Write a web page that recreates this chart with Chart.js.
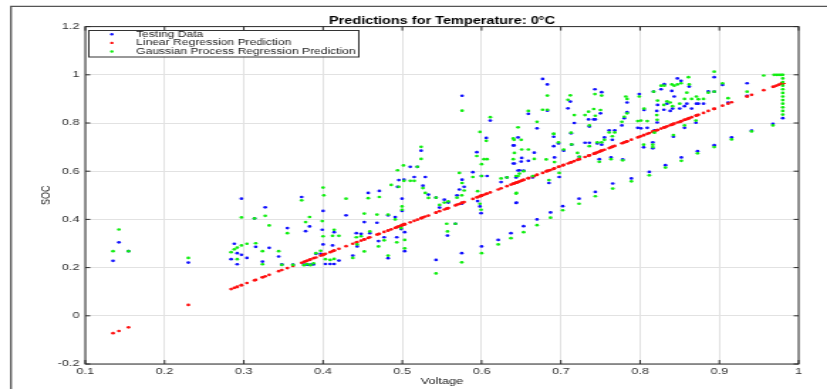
<!DOCTYPE html>
<html>
<head>
<meta charset="utf-8">
<title>Predictions for Temperature: 0°C</title>
<script src="https://cdn.jsdelivr.net/npm/chart.js@4.4.1/dist/chart.umd.min.js"></script>
<style>
  html,body{margin:0;padding:0;background:#fff;overflow:hidden;}
  #wrap{width:827px;height:389px;overflow:hidden;}
  #chart{display:block;transform:scaleX(1.421);transform-origin:0 0;}
</style>
</head>
<body>
<div id="wrap"><canvas id="chart" width="582" height="389"></canvas></div>
<script>
const chartTitle = 'Predictions for Temperature: 0°C';
const seriesNames = ['Testing Data', 'Linear Regression Prediction', 'Gaussian Process Regression Prediction'];
const seriesColors = ['#1010ff', '#ff1010', '#10ee10'];
const xTickLabels = [0.1, 0.2, 0.3, 0.4, 0.5, 0.6, 0.7, 0.8, 0.9, 1];
const yTickLabels = [-0.2, 0, 0.2, 0.4, 0.6, 0.8, 1, 1.2];

// one entry per test sample (voltage), null where that mark is not visible
const voltage = [
  0.135,0.1425,0.1546,0.230,0.284,0.288,0.2917,0.2917,0.297,0.297,
  0.304,0.3135,0.315,0.3236,0.3236,0.327,0.332,0.344,0.348,0.355,
  0.362,0.373,0.376,0.378,0.380,0.383,0.384,0.388,0.391,0.397,
  0.399,0.400,0.400,0.401,0.403,0.409,0.412,0.414,0.414,0.420,
  0.429,0.4375,0.442,0.443,0.448,0.452,0.452,0.457,0.459,0.468,
  0.470,0.471,0.477,0.482,0.482,0.486,0.491,0.493,0.494,0.4956,
  0.4985,0.4997,0.4997,0.5014,0.502,0.503,0.503,0.510,0.515,0.519,
  0.5237,0.5237,0.526,0.529,0.533,0.5426,0.5426,0.547,0.553,0.556,
  0.557,0.558,0.567,0.569,0.572,0.575,0.5754,0.5754,0.575,0.578,
  0.589,0.594,0.595,0.598,0.598,0.5994,0.600,0.600,0.600,0.603,
  0.606,0.607,0.611,0.621,0.6246,0.632,0.637,0.640,0.640,0.641,
  0.6414,0.6435,0.6435,0.644,0.646,0.646,0.6477,0.650,0.6506,0.653,
  0.653,0.659,0.659,0.6645,0.6665,0.670,0.670,0.677,0.6815,0.683,
  0.683,0.685,0.687,0.691,0.691,0.692,0.697,0.698,0.7024,0.7036,
  0.709,0.712,0.713,0.7136,0.717,0.721,0.723,0.7234,0.7305,0.735,
  0.736,0.736,0.7415,0.743,0.7435,0.7435,0.746,0.7485,0.750,0.7515,
  0.7515,0.755,0.761,0.7633,0.765,0.7655,0.768,0.777,0.778,0.780,
  0.782,0.7835,0.7835,0.789,0.797,0.799,0.801,0.8045,0.805,0.809,
  0.8116,0.816,0.816,0.817,0.818,0.821,0.8215,0.822,0.8264,0.830,
  0.8305,0.832,0.834,0.838,0.840,0.841,0.842,0.843,0.847,0.850,
  0.8516,0.852,0.856,0.856,0.859,0.861,0.862,0.865,0.8705,0.871,
  0.8725,0.8735,0.880,0.886,0.8935,0.8935,0.8935,0.904,0.911,0.9154,
  0.935,0.935,0.9407,0.956,0.9676,0.969,0.972,0.975,0.978,0.980,
  0.980,0.980,0.980,0.980,0.980,0.980,0.980,0.980,0.980,0.980,0.980
];
const testSoc = [
  0.228,0.305,0.268,0.221,0.235,0.299,0.260,0.214,0.253,0.486,
  0.240,0.404,0.286,0.225,null,0.450,0.282,0.246,0.213,0.364,
  0.212,0.493,0.212,0.351,0.212,0.371,0.212,0.213,0.257,0.257,
  0.357,0.296,0.435,null,0.215,0.215,0.292,0.347,0.215,0.229,
  0.417,0.250,0.343,0.288,0.340,0.389,null,0.510,0.343,0.386,
  0.310,0.518,0.326,0.239,0.417,null,0.410,0.326,0.535,0.563,
  0.360,0.486,0.435,null,0.565,0.347,0.268,0.618,0.576,0.618,
  0.685,null,0.540,0.576,0.503,0.490,0.232,0.449,0.482,null,
  0.333,0.470,0.382,0.500,0.524,0.465,0.913,0.565,0.260,0.535,
  0.596,0.679,0.476,0.454,null,0.426,0.580,0.288,null,null,
  0.738,0.580,0.810,0.315,0.555,0.574,0.343,0.707,0.632,0.707,
  0.632,0.468,0.574,0.470,0.740,0.603,0.604,0.640,0.655,0.372,
  0.603,0.838,0.643,0.574,0.677,0.400,0.778,0.983,null,0.960,
  0.851,0.551,0.429,0.704,0.743,0.657,0.715,0.576,0.455,0.685,
  0.861,0.889,0.757,0.710,0.800,null,0.486,0.660,0.718,0.815,
  0.785,0.718,0.815,0.940,0.514,0.815,0.715,0.650,0.840,0.928,
  0.710,0.740,0.770,0.657,0.730,0.549,0.770,0.790,0.649,0.820,
  null,0.885,0.845,0.570,0.780,0.920,0.778,0.699,0.854,0.780,
  0.597,0.720,0.695,0.930,0.770,0.850,0.802,0.875,0.940,0.855,
  0.961,0.625,0.880,0.850,0.933,0.860,0.743,0.910,0.985,0.860,
  0.975,0.657,0.780,0.870,0.880,null,0.951,0.860,0.801,0.880,
  0.683,0.880,0.880,0.931,0.990,0.930,0.708,0.958,0.885,0.740,
  0.965,0.913,0.768,null,0.796,null,null,null,null,null,
  null,null,null,null,null,null,null,null,null,null,0.820
];
const linearSoc = [
  -0.072,-0.063,-0.048,0.045,0.111,0.116,0.120,0.120,0.127,0.127,
  0.136,0.147,0.149,0.160,0.160,0.164,0.170,0.185,0.190,0.198,
  0.207,0.220,0.224,0.226,0.229,0.232,0.234,0.239,0.242,0.250,
  0.252,0.253,0.253,0.255,0.257,0.264,0.268,0.271,0.271,0.278,
  0.289,0.299,0.305,0.306,0.312,0.317,0.317,0.323,0.326,0.337,
  0.339,0.340,0.348,0.354,0.354,0.359,0.365,0.367,0.369,0.371,
  0.374,0.376,0.376,0.378,0.378,0.380,0.380,0.388,0.394,0.399,
  0.405,0.405,0.408,0.412,0.416,0.428,0.428,0.434,0.441,0.445,
  0.446,0.447,0.458,0.461,0.464,0.468,0.469,0.469,0.468,0.472,
  0.485,0.491,0.493,0.496,0.496,0.498,0.499,0.499,0.499,0.502,
  0.506,0.507,0.512,0.524,0.529,0.538,0.544,0.548,0.548,0.549,
  0.550,0.552,0.552,0.553,0.555,0.555,0.557,0.560,0.561,0.564,
  0.564,0.571,0.571,0.578,0.580,0.585,0.585,0.593,0.599,0.601,
  0.601,0.603,0.605,0.610,0.610,0.612,0.618,0.619,0.624,0.626,
  0.632,0.636,0.637,0.638,0.642,0.647,0.650,0.650,0.659,0.664,
  0.666,0.666,0.672,0.674,0.675,0.675,0.678,0.681,0.683,0.685,
  0.685,0.689,0.696,0.699,0.701,0.702,0.705,0.716,0.717,0.720,
  0.722,0.724,0.724,0.731,0.740,0.743,0.745,0.750,0.750,0.755,
  0.758,0.764,0.764,0.765,0.766,0.770,0.771,0.771,0.777,0.781,
  0.782,0.783,0.786,0.791,0.793,0.794,0.796,0.797,0.802,0.805,
  0.807,0.808,0.813,0.813,0.816,0.819,0.820,0.824,0.831,0.831,
  0.833,0.834,0.842,0.850,0.859,0.859,0.859,0.872,0.880,0.886,
  0.910,0.910,0.917,0.936,0.950,0.951,0.955,0.959,0.963,0.965,
  0.965,0.965,0.965,0.965,0.965,0.965,0.965,0.965,0.965,0.965,0.965
];
const gprSoc = [
  0.268,0.358,0.268,0.240,0.264,0.276,0.283,0.235,0.292,0.408,
  0.299,0.404,0.301,0.268,0.214,0.415,0.375,0.268,0.211,0.343,
  0.211,0.479,0.210,0.389,0.215,0.410,0.210,0.218,0.260,0.270,
  0.393,0.330,0.532,0.500,0.235,0.232,0.332,0.357,0.236,0.332,
  0.486,0.240,0.326,0.296,0.330,0.424,0.267,0.488,0.350,0.420,
  0.288,0.493,0.313,0.250,0.420,0.543,0.400,0.305,0.604,0.535,
  0.364,0.454,0.440,0.624,0.560,0.315,0.280,0.560,0.560,0.618,
  0.701,0.651,0.530,0.510,0.489,0.490,0.176,0.460,0.470,0.382,
  0.350,0.475,0.382,0.490,0.593,0.500,0.851,0.551,0.222,0.520,
  0.576,0.663,0.517,0.465,0.763,0.440,0.580,0.260,0.629,0.650,
  0.726,0.650,0.824,0.296,0.570,0.574,0.322,0.736,0.650,0.730,
  0.676,0.507,0.580,0.510,0.782,0.580,0.590,0.730,0.690,0.347,
  0.600,0.850,0.690,0.580,0.651,0.376,0.805,0.855,0.649,0.914,
  0.855,0.563,0.407,0.755,0.755,0.638,0.720,0.593,0.438,0.690,
  0.896,0.915,0.760,0.711,0.833,0.676,0.465,0.660,0.833,0.847,
  0.790,0.704,0.858,0.920,0.496,0.830,0.720,0.639,0.854,0.914,
  0.720,0.730,0.761,0.650,0.745,0.528,0.761,0.805,0.645,0.826,
  0.910,0.900,0.840,0.558,0.808,0.910,0.810,0.710,0.860,0.808,
  0.583,0.710,0.700,0.930,0.760,0.833,0.813,0.893,0.955,0.875,
  0.955,0.615,0.890,0.885,0.960,0.870,0.750,0.955,0.960,0.880,
  0.965,0.643,0.790,0.900,0.926,0.990,0.960,0.900,0.810,0.910,
  0.674,0.899,0.900,0.926,1.013,0.930,0.700,0.965,0.903,0.732,
  0.930,null,0.765,0.997,0.790,1.000,1.000,1.000,1.000,1.000,
  0.985,0.970,0.955,0.940,0.925,0.910,0.895,0.880,0.865,0.850,0.835
];

const FONT = "'Liberation Sans', Arial, Helvetica, sans-serif";
const pts = (ys) => voltage.map((v, i) => ({x: v, y: ys[i]})).filter(p => p.y !== null);

// MATLAB-like figure: outer border, boxed axes with inward ticks, title and legend box
const figurePlugin = {
  id: 'figure',
  beforeDraw(chart){
    const c = chart.ctx;
    c.save();
    c.fillStyle = '#fff';
    c.fillRect(0, 0, chart.width, chart.height);
    c.strokeStyle = '#555';
    c.lineWidth = 1.3;
    c.beginPath();
    c.moveTo(7.7, chart.height); c.lineTo(7.7, 6.3); c.lineTo(chart.width, 6.3);
    c.stroke();
    c.restore();
  },
  afterDatasetsDraw(chart){
    const {ctx: c, chartArea: a, scales: {x, y}} = chart;
    c.save();
    c.strokeStyle = '#2b2b2b';
    c.lineWidth = 1;
    c.strokeRect(a.left, a.top, a.right - a.left, a.bottom - a.top);
    c.beginPath();
    xTickLabels.forEach(v => {
      const px = x.getPixelForValue(v);
      c.moveTo(px, a.bottom); c.lineTo(px, a.bottom - 4);
      c.moveTo(px, a.top); c.lineTo(px, a.top + 4);
    });
    yTickLabels.forEach(v => {
      const py = y.getPixelForValue(v);
      c.moveTo(a.left, py); c.lineTo(a.left + 3.5, py);
      c.moveTo(a.right, py); c.lineTo(a.right - 3.5, py);
    });
    c.stroke();

    c.fillStyle = '#000';
    c.font = `bold 10.2px ${FONT}`;
    c.textAlign = 'center';
    c.textBaseline = 'middle';
    c.fillText(chartTitle, (a.left + a.right) / 2, 21.5);

    const lx = 62, ly = 30, lw = 190, lh = 26.5;
    c.fillStyle = '#fff';
    c.fillRect(lx, ly, lw, lh);
    c.strokeStyle = '#333';
    c.strokeRect(lx + 0.5, ly + 0.5, lw, lh);
    c.font = `8.5px ${FONT}`;
    c.textAlign = 'left';
    seriesNames.forEach((name, i) => {
      const yy = ly + 4.3 + i * 8.6;
      c.fillStyle = seriesColors[i];
      c.beginPath(); c.arc(78.7, yy, 1.2, 0, Math.PI * 2); c.fill();
      c.fillStyle = '#222';
      c.fillText(name, 95.8, yy);
    });
    c.restore();
  }
};

const dot = (i, data, order) => ({
  label: seriesNames[i], data, order,
  pointRadius: 1.35, pointBorderWidth: 0, borderWidth: 0,
  pointBackgroundColor: seriesColors[i], backgroundColor: seriesColors[i]
});

const tickFont = {family: FONT, size: 9};
new Chart(document.getElementById('chart'), {
  type: 'scatter',
  data: {
    datasets: [
      dot(0, pts(testSoc), 3),
      dot(1, pts(linearSoc), 2),
      dot(2, pts(gprSoc), 1)
    ]
  },
  options: {
    responsive: false,
    animation: false,
    devicePixelRatio: 1,
    layout: {padding: {left: 23, right: 20, top: 26.6, bottom: 0}},
    plugins: {legend: {display: false}, tooltip: {enabled: false}, title: {display: false}},
    scales: {
      x: {
        type: 'linear', min: 0.1, max: 1,
        afterBuildTicks: s => { s.ticks = xTickLabels.map(v => ({value: v})); },
        afterFit: s => { s.height = 25; },
        grid: {color: '#e2e2e2', lineWidth: 1, drawTicks: false},
        border: {display: false},
        ticks: {padding: 2, color: '#333', font: tickFont, maxRotation: 0, autoSkip: false,
                callback: v => String(+v.toFixed(1))},
        title: {display: true, text: 'Voltage', color: '#222', font: tickFont, padding: {top: 0, bottom: 2}}
      },
      y: {
        type: 'linear', min: -0.2, max: 1.2,
        afterBuildTicks: s => { s.ticks = yTickLabels.map(v => ({value: v})); },
        afterFit: s => { s.width = 37; },
        grid: {color: '#e2e2e2', lineWidth: 1, drawTicks: false},
        border: {display: false},
        ticks: {padding: 4, color: '#333', font: tickFont, autoSkip: false,
                callback: v => String(+v.toFixed(1))},
        title: {display: true, text: 'SOC', color: '#222', font: tickFont, padding: {top: 4, bottom: 0}}
      }
    }
  },
  plugins: [figurePlugin]
});
</script>
</body>
</html>
